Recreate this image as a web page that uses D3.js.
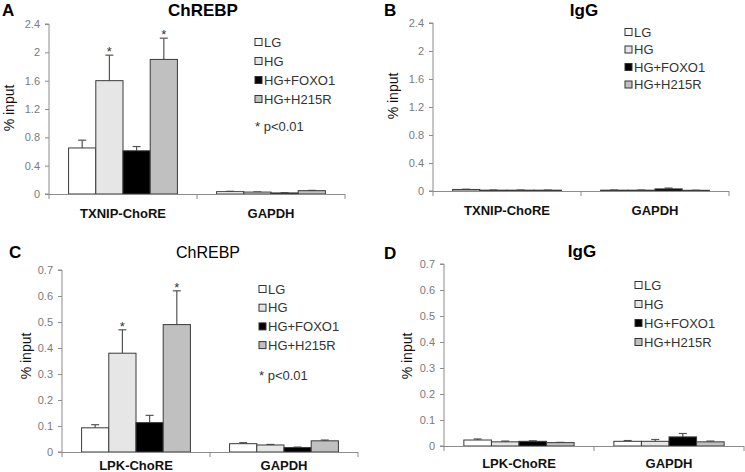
<!DOCTYPE html>
<html><head><meta charset="utf-8">
<script src="https://cdn.jsdelivr.net/npm/d3@7/dist/d3.min.js"></script>
<style>
html,body{margin:0;padding:0;background:#fff;}
svg{display:block;font-family:"Liberation Sans",Arial,sans-serif;}
</style></head>
<body>
<svg id="chart" width="745" height="472"></svg>
<script>
// ---------- data ----------
const seriesNames = ["LG", "HG", "HG+FOXO1", "HG+H215R"];
const categoriesAB = ["TXNIP-ChoRE", "GAPDH"];
const categoriesCD = ["LPK-ChoRE", "GAPDH"];
const yTicksAB = [0, 0.4, 0.8, 1.2, 1.6, 2, 2.4];
const yTicksCD = [0, 0.1, 0.2, 0.3, 0.4, 0.5, 0.6, 0.7];

const valuesA = [[0.65, 1.60, 0.61, 1.90], [0.033, 0.027, 0.015, 0.047]];
const errorsA = [[0.11, 0.36, 0.06, 0.30], [0.005, 0.003, 0.002, 0.004]];
const starsA  = [[0, 1, 0, 1], [0, 0, 0, 0]];

const valuesB = [[0.022, 0.012, 0.012, 0.012], [0.012, 0.012, 0.03, 0.01]];
const errorsB = [[0.003, 0.002, 0.002, 0.001], [0.002, 0.002, 0.012, 0.001]];
const starsB  = [[0, 0, 0, 0], [0, 0, 0, 0]];

const valuesC = [[0.093, 0.38, 0.113, 0.49], [0.032, 0.027, 0.017, 0.043]];
const errorsC = [[0.012, 0.09, 0.028, 0.13], [0.004, 0.002, 0.002, 0.003]];
const starsC  = [[0, 1, 0, 1], [0, 0, 0, 0]];

const valuesD = [[0.023, 0.016, 0.018, 0.013], [0.018, 0.018, 0.035, 0.016]];
const errorsD = [[0.004, 0.003, 0.002, 0.001], [0.003, 0.007, 0.013, 0.003]];
const starsD  = [[0, 0, 0, 0], [0, 0, 0, 0]];

// ---------- style ----------
const fills = ["#ffffff", "#e6e6e6", "#000000", "#c0c0c0"];
const FONT = '"Liberation Sans",Arial,sans-serif';

const svg = d3.select("#chart");

function panel(cfg) {
  const g = svg.append("g");
  const y = d3.scaleLinear().domain([0, cfg.ymax]).range([cfg.y0, cfg.ytop]);
  const x0 = d3.scaleBand().domain(cfg.cats).range([cfg.x0, cfg.x1]).padding(0);
  const x1 = d3.scaleBand().domain(seriesNames).range([0, x0.bandwidth()])
    .paddingInner(0).paddingOuter(0.72);

  // y axis
  const ya = g.append("g").attr("transform", `translate(${cfg.x0},0)`)
    .call(d3.axisLeft(y).tickValues(cfg.ticks).tickSize(4).tickPadding(5)
      .tickFormat(d => String(d)));
  ya.select(".domain").attr("stroke", "#8c8c8c").attr("d", `M-4,${cfg.y0}H0V${cfg.ytop}H-4`);
  ya.selectAll(".tick line").attr("stroke", "#8c8c8c");
  ya.selectAll(".tick text").attr("fill", "#7a7a7a").style("font-size", "11px").style("font-family", FONT);

  // bars
  cfg.cats.forEach((c, ci) => {
    const gg = g.append("g").attr("transform", `translate(${x0(c)},0)`);
    seriesNames.forEach((s, si) => {
      const v = cfg.values[ci][si], e = cfg.errors[ci][si];
      const bx = x1(s), bw = x1.bandwidth(), cx = bx + bw / 2;
      // error bar
      gg.append("line").attr("x1", cx).attr("x2", cx).attr("y1", y(v)).attr("y2", y(v + e))
        .attr("stroke", "#555").attr("stroke-width", 1.2);
      gg.append("line").attr("x1", cx - 4).attr("x2", cx + 4).attr("y1", y(v + e)).attr("y2", y(v + e))
        .attr("stroke", "#555").attr("stroke-width", 1.2);
      gg.append("rect").attr("x", bx).attr("width", bw)
        .attr("y", y(v)).attr("height", Math.max(0, y(0) - y(v)))
        .attr("fill", fills[si]).attr("stroke", "#3a3a3a").attr("stroke-width", 1);
      if (cfg.stars[ci][si]) {
        gg.append("text").attr("x", cx).attr("y", y(v + e) + 1).attr("text-anchor", "middle")
          .style("font-size", "13px").attr("fill", "#333").text("*");
      }
    });
  });

  // x axis line + ticks at category boundaries
  g.append("line").attr("x1", cfg.x0).attr("x2", cfg.x1).attr("y1", cfg.y0 + 0.5).attr("y2", cfg.y0 + 0.5)
    .attr("stroke", "#8c8c8c");
  const bounds = cfg.cats.map(c => x0(c)).concat([cfg.x1]);
  g.selectAll(".xt").data(bounds).enter().append("line")
    .attr("x1", d => d).attr("x2", d => d).attr("y1", cfg.y0).attr("y2", cfg.y0 + 5)
    .attr("stroke", "#8c8c8c");
  g.selectAll(".xl").data(cfg.cats).enter().append("text")
    .attr("x", d => x0(d) + x0.bandwidth() / 2).attr("y", cfg.xlabY)
    .attr("text-anchor", "middle").style("font-size", "13px").style("font-weight", "bold")
    .attr("fill", "#111").text(d => d);

  // y label
  g.append("text").attr("transform", `translate(${cfg.ylabX},${cfg.ylabY}) rotate(-90)`)
    .attr("text-anchor", "middle").style("font-size", "14px").attr("fill", "#111").text("% input");

  // title & letter
  g.append("text").attr("x", cfg.titleX).attr("y", cfg.titleY).attr("text-anchor", "middle")
    .style("font-size", cfg.titleSize + "px").style("font-weight", cfg.titleWeight).attr("fill", "#000").text(cfg.title);
  g.append("text").attr("x", cfg.letterX).attr("y", cfg.letterY)
    .style("font-size", "17px").style("font-weight", "bold").attr("fill", "#000").text(cfg.letter);

  // legend
  const lg = g.append("g");
  seriesNames.forEach((s, si) => {
    const cy = cfg.legY + si * cfg.legStep;
    lg.append("rect").attr("x", cfg.legX).attr("y", cy - 3.5).attr("width", 7).attr("height", 7)
      .attr("fill", fills[si]).attr("stroke", "#333").attr("stroke-width", 1);
    lg.append("text").attr("x", cfg.legX + 9).attr("y", cy + 4.5)
      .style("font-size", "13px").attr("fill", "#333").text(s);
  });
  if (cfg.pnote) {
    lg.append("text").attr("x", cfg.legX).attr("y", cfg.pY)
      .style("font-size", "13px").attr("fill", "#333").text("* p<0.01");
  }
}

panel({x0: 49, x1: 345, y0: 194, ytop: 24, ymax: 2.4, ticks: yTicksAB, cats: categoriesAB,
  values: valuesA, errors: errorsA, stars: starsA, xlabY: 218, ylabX: 14, ylabY: 108,
  title: "ChREBP", titleX: 203, titleY: 16, titleSize: 17, titleWeight: "bold",
  letter: "A", letterX: 2, letterY: 16, legX: 255, legY: 42, legStep: 19, pnote: true, pY: 131});

panel({x0: 433, x1: 729, y0: 191, ytop: 23, ymax: 2.4, ticks: yTicksAB, cats: categoriesAB,
  values: valuesB, errors: errorsB, stars: starsB, xlabY: 215, ylabX: 398, ylabY: 96,
  title: "IgG", titleX: 584, titleY: 16, titleSize: 17, titleWeight: "bold",
  letter: "B", letterX: 384, letterY: 16, legX: 625, legY: 32, legStep: 17.5, pnote: false});

panel({x0: 62, x1: 358, y0: 452, ytop: 270, ymax: 0.7, ticks: yTicksCD, cats: categoriesCD,
  values: valuesC, errors: errorsC, stars: starsC, xlabY: 470, ylabX: 31, ylabY: 356,
  title: "ChREBP", titleX: 208, titleY: 258, titleSize: 16, titleWeight: "normal",
  letter: "C", letterX: 9, letterY: 258, legX: 259, legY: 289, legStep: 18.7, pnote: true, pY: 380});

panel({x0: 444, x1: 744, y0: 446, ytop: 264, ymax: 0.7, ticks: yTicksCD, cats: categoriesCD,
  values: valuesD, errors: errorsD, stars: starsD, xlabY: 468, ylabX: 412, ylabY: 356,
  title: "IgG", titleX: 582, titleY: 257, titleSize: 17, titleWeight: "bold",
  letter: "D", letterX: 384, letterY: 259, legX: 635, legY: 285, legStep: 19, pnote: false});
</script>
</body></html>
